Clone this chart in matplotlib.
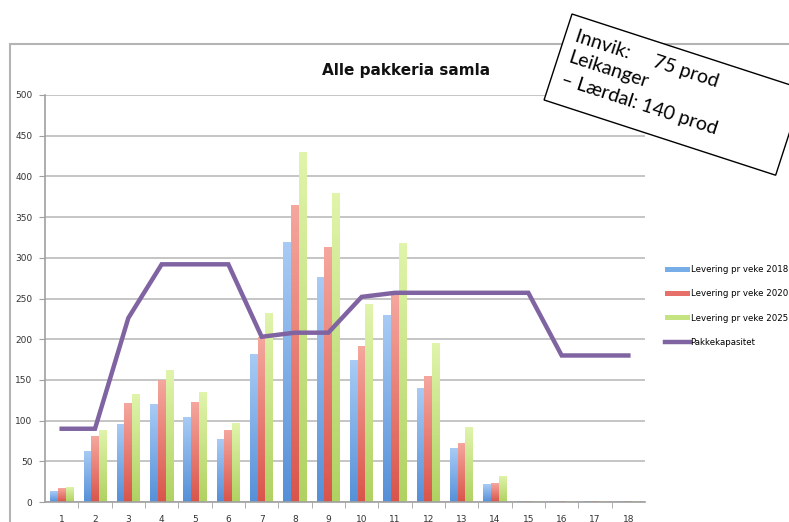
import numpy as np
import matplotlib
matplotlib.use("Agg")
import matplotlib.pyplot as plt
import matplotlib.patches as mpatches
import matplotlib.transforms as mtransforms
from matplotlib.colors import LinearSegmentedColormap

# data
veker = np.arange(1, 19)
lev_2018 = [13, 63, 96, 120, 104, 77, 182, 319, 277, 174, 230, 140, 66, 22, 1, 1, 1, 1]
lev_2020 = [17, 81, 122, 150, 123, 89, 203, 365, 313, 192, 256, 155, 73, 23, 1, 1, 1, 1]
lev_2025 = [19, 89, 133, 162, 135, 97, 232, 430, 380, 243, 318, 195, 92, 32, 1, 1, 1, 1]
kapasitet = [90, 90, 226, 292, 292, 292, 203, 208, 208, 252, 257, 257, 257, 257, 257, 180, 180, 180]

W, H = 789, 522
fig = plt.figure(figsize=(W / 100, H / 100), dpi=100)

# pixel helper (image coords, y down) -> figure fraction
def fx(x):
    return x / W

def fy(y):
    return 1 - y / H

# outer chart frame
fig.patches.append(mpatches.Rectangle((fx(10), fy(600)), 1, fy(44) - fy(600),
                                      transform=fig.transFigure, fill=False,
                                      edgecolor="#b4b4b4", linewidth=1.5))

ax = fig.add_axes([fx(45), fy(502), fx(645) - fx(45), fy(95) - fy(502)])

bw = 0.23
serier = [
    (lev_2018, -bw, "#78aee8", "#5690d8", "#a8cbf5", "Levering pr veke 2018"),
    (lev_2020, 0, "#e8706a", "#d9554b", "#f5a79e", "Levering pr veke 2020"),
    (lev_2025, bw, "#c5e380", "#b0d262", "#e0f4ab", "Levering pr veke 2025"),
]
handles = []
grad = np.linspace(0, 1, 64).reshape(-1, 1)
for verdi, off, farge, mork, lys, navn in serier:
    bars = ax.bar(veker + off, verdi, bw, color=farge, label=navn, zorder=2)
    handles.append(bars)
    cmap = LinearSegmentedColormap.from_list(navn, [mork, lys])
    for p in bars.patches:
        x0, h = p.get_x(), p.get_height()
        im = ax.imshow(grad, extent=(x0, x0 + p.get_width(), 0, h), origin="lower",
                       cmap=cmap, aspect="auto", zorder=2.1, interpolation="bilinear")
        im.set_clip_path(p)

l1, = ax.plot(veker, kapasitet, color="#8064a2", linewidth=3.2, label="Pakkekapasitet",
              solid_joinstyle="miter", zorder=3)
handles.append(l1)

ax.set_xlim(0.5, 18.5)
ax.set_ylim(0, 500)
ax.set_aspect("auto")
ax.set_yticks(range(0, 501, 50))
ax.set_xticks(veker)
ax.set_xticks(np.arange(1.5, 18.5, 1), minor=True)
ax.yaxis.grid(True, color="#c0c0c0", linewidth=1.3, zorder=0)
ax.set_axisbelow(True)
for s in ["top", "right"]:
    ax.spines[s].set_visible(False)
for s in ["left", "bottom"]:
    ax.spines[s].set_color("#a0a0a0")
    ax.spines[s].set_linewidth(1.2)
ax.tick_params(axis="x", which="major", length=0, labelsize=6.5, pad=9, labelcolor="#333333")
ax.tick_params(axis="x", which="minor", length=4, color="#a0a0a0")
ax.tick_params(axis="y", length=4, color="#a0a0a0", labelsize=6.5, pad=5, labelcolor="#333333")

fig.text(fx(406), fy(70), "Alle pakkeria samla", ha="center", va="center",
         fontsize=11, fontweight="bold", color="#111111")

fig.legend(handles, [h.get_label() for h in handles],
           loc="center left", bbox_to_anchor=(fx(657), fy(306)), frameon=False,
           fontsize=6.2, handlelength=2.9, handleheight=0.5, labelspacing=1.75,
           handletextpad=0.1)

# rotated note box
px = mtransforms.Affine2D().scale(1 / W, 1 / H) + fig.transFigure
rot = mtransforms.Affine2D().rotate_deg(-18).translate(572, H - 14) + px
bw_box, bh_box = 243.5, 90.4
fig.patches.append(mpatches.Rectangle((0, -bh_box), bw_box, bh_box, transform=rot,
                                      facecolor="white", edgecolor="black", linewidth=1.0,
                                      zorder=5))
fig.text(10, -11, "Innvik:     75 prod\nLeikanger\n– Lærdal: 140 prod", transform=rot,
         rotation=-18, rotation_mode="anchor", ha="left", va="top",
         fontsize=14, family=["Lato", "DejaVu Sans"], linespacing=1.4, zorder=6)

fig.savefig("out.png", dpi=100)
